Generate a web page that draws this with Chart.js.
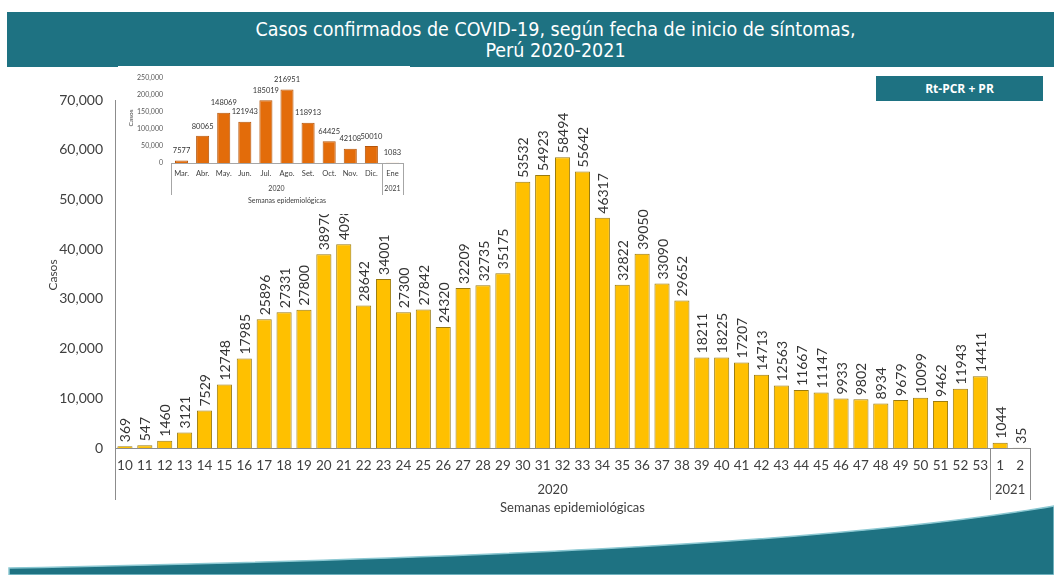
<!DOCTYPE html>
<html><head><meta charset="utf-8">
<script src="https://cdn.jsdelivr.net/npm/chart.js@4.4.1/dist/chart.umd.min.js"></script>
<style>
html,body{margin:0;padding:0;background:#fff;width:1054px;height:575px;overflow:hidden;position:relative;font-family:Lato,"Open Sans",sans-serif;}
#banner{position:absolute;left:7px;top:12px;width:1047px;height:55px;background:#1e7282;color:#fff;text-align:center;font-family:"DejaVu Sans Condensed","DejaVu Sans",sans-serif;font-size:19.5px;line-height:21px;padding-top:7px;padding-left:50px;box-sizing:border-box;}
#tag{position:absolute;left:876px;top:76px;width:167px;height:25px;background:#1e7282;color:#fff;font-family:"Open Sans",sans-serif;font-weight:bold;font-size:12px;line-height:25px;text-align:center;}
#main{position:absolute;left:0;top:0;}
#inset{position:absolute;left:118px;top:66px;background:#fff;}
#wave{position:absolute;left:0;top:0;}
</style></head><body>
<svg id="wave" width="1054" height="575"><path d="M9,568 C 420,560 820,546 1054,506 L1054,575 L9,575 Z" fill="#1e7282" stroke="#8cc8d2" stroke-width="1.5"/></svg>
<div id="banner">Casos confirmados de COVID-19, según fecha de inicio de síntomas,<br>Perú 2020-2021</div>
<canvas id="main" width="1054" height="575"></canvas>
<canvas id="inset" width="292" height="148"></canvas>
<div id="tag">Rt-PCR + PR</div>
<script>
// ---- data ----
const weeks = ['10','11','12','13','14','15','16','17','18','19','20','21','22','23','24','25','26','27','28','29','30','31','32','33','34','35','36','37','38','39','40','41','42','43','44','45','46','47','48','49','50','51','52','53','1','2'];
const weeklyCases = [369,547,1460,3121,7529,12748,17985,25896,27331,27800,38970,40980,28642,34001,27300,27842,24320,32209,32735,35175,53532,54923,58494,55642,46317,32822,39050,33090,29652,18211,18225,17207,14713,12563,11667,11147,9933,9802,8934,9679,10099,9462,11943,14411,1044,35];
const weekYears = ['2020','2021'];
const weeksIn2020 = 44;
const yTicksMain = [0,10000,20000,30000,40000,50000,60000,70000];

const months = ['Mar.','Abr.','May.','Jun.','Jul.','Ago.','Set.','Oct.','Nov.','Dic.','Ene'];
const monthlyCases = [7577,80065,148069,121943,185019,216951,118913,64425,42108,50010,1083];
const monthsIn2020 = 10;
const yTicksInset = [0,50000,100000,150000,200000,250000];

const fmt = v => v.toLocaleString('en-US');

function groupPlugin(opts){
  return {
    id:'groups'+opts.key,
    afterDraw(chart){
      const {ctx, chartArea:a, scales:{x}} = chart;
      const sep = (x.getPixelForValue(opts.split-1)+x.getPixelForValue(opts.split))/2;
      ctx.save();
      ctx.strokeStyle = opts.lineColor; ctx.lineWidth = 1;
      [a.left, sep, a.right].forEach(px=>{
        const xx = Math.round(px)+0.5;
        ctx.beginPath(); ctx.moveTo(xx,a.bottom); ctx.lineTo(xx,a.bottom+opts.sepLen); ctx.stroke();
      });
      ctx.fillStyle = opts.textColor;
      ctx.font = opts.yearFont; ctx.textAlign='center'; ctx.textBaseline='middle';
      ctx.fillText(opts.years[0], (a.left+sep)/2, a.bottom+opts.yearY);
      ctx.fillText(opts.years[1], (sep+a.right)/2, a.bottom+opts.yearY);
      ctx.font = opts.titleFont;
      ctx.fillText('Semanas epidemiológicas', (a.left+a.right)/2, a.bottom+opts.titleY);
      ctx.save();
      ctx.translate(opts.casosX, opts.casosY); ctx.rotate(-Math.PI/2);
      ctx.font = opts.casosFont; ctx.fillText('Casos',0,0);
      ctx.restore();
      const meta = chart.getDatasetMeta(0);
      ctx.font = opts.labelFont; ctx.fillStyle = opts.labelColor;
      meta.data.forEach((el,i)=>{
        const v = chart.data.datasets[0].data[i];
        if(opts.rotate){
          ctx.save(); ctx.translate(el.x+1, el.y-4); ctx.rotate(-Math.PI/2);
          ctx.textAlign='left'; ctx.textBaseline='middle'; ctx.fillText(String(v),0,0); ctx.restore();
        } else {
          ctx.textAlign='center'; ctx.textBaseline='bottom'; ctx.fillText(String(v), el.x, el.y-opts.labelGap);
        }
      });
      ctx.restore();
    }
  };
}

Chart.defaults.font.family = 'Lato, "Open Sans", sans-serif';
Chart.defaults.animation = false;

new Chart(document.getElementById('main'), {
  type:'bar',
  data:{labels:weeks, datasets:[{data:weeklyCases, backgroundColor:'#FFC000', borderColor:'#9a7b10', borderWidth:1, barPercentage:0.76, categoryPercentage:1}]},
  options:{
    responsive:false, devicePixelRatio:1,
    layout:{padding:{left:0,right:24,top:100,bottom:0}},
    plugins:{legend:{display:false}, tooltip:{enabled:false}},
    scales:{
      x:{grid:{display:false, drawTicks:false}, border:{display:true,color:'#8c8c8c'},
         ticks:{autoSkip:false, maxRotation:0, padding:10, color:'#404040', font:{size:13.5}},
         afterFit(s){s.height=127;}},
      y:{min:0,max:70000, afterBuildTicks(s){s.ticks=yTicksMain.map(v=>({value:v}));},
         grid:{display:false, drawTicks:false}, border:{display:true,color:'#8c8c8c'},
         ticks:{padding:12, color:'#404040', font:{size:14}, callback:v=>fmt(v)},
         afterFit(s){s.width=115;}}
    }
  },
  plugins:[groupPlugin({key:'m', split:weeksIn2020, years:weekYears, lineColor:'#8c8c8c', textColor:'#404040', sepLen:52,
    yearFont:'13px Lato', yearY:42, titleFont:'13px Lato', titleY:60, casosX:53, casosY:275, casosFont:'12px Lato',
    labelFont:'14px Lato', labelColor:'#333', rotate:true})]
});

new Chart(document.getElementById('inset'), {
  type:'bar',
  data:{labels:months, datasets:[{data:monthlyCases, backgroundColor:'#E36C0A', borderColor:'#b5550a', borderWidth:1, barPercentage:0.62, categoryPercentage:1}]},
  options:{
    responsive:false, devicePixelRatio:1,
    layout:{padding:{left:0,right:7,top:6,bottom:0}},
    plugins:{legend:{display:false}, tooltip:{enabled:false}},
    scales:{
      x:{grid:{display:false, drawTicks:false}, border:{display:true,color:'#a6a6a6'},
         ticks:{autoSkip:false, maxRotation:0, padding:6, color:'#404040', font:{size:7.5}},
         afterFit(s){s.height=51;}},
      y:{min:0,max:250000, afterBuildTicks(s){s.ticks=yTicksInset.map(v=>({value:v}));},
         grid:{display:false, drawTicks:false}, border:{display:false},
         ticks:{padding:8, color:'#595959', font:{size:7}, callback:v=>fmt(v)},
         afterFit(s){s.width=53;}}
    }
  },
  plugins:[groupPlugin({key:'i', split:monthsIn2020, years:weekYears, lineColor:'#a6a6a6', textColor:'#404040', sepLen:32,
    yearFont:'7px Lato', yearY:26, titleFont:'7px Lato', titleY:38, casosX:13, casosY:52, casosFont:'6.5px Lato',
    labelFont:'7.5px Lato', labelColor:'#333', rotate:false, labelGap:6})]
});
</script>
</body></html>
